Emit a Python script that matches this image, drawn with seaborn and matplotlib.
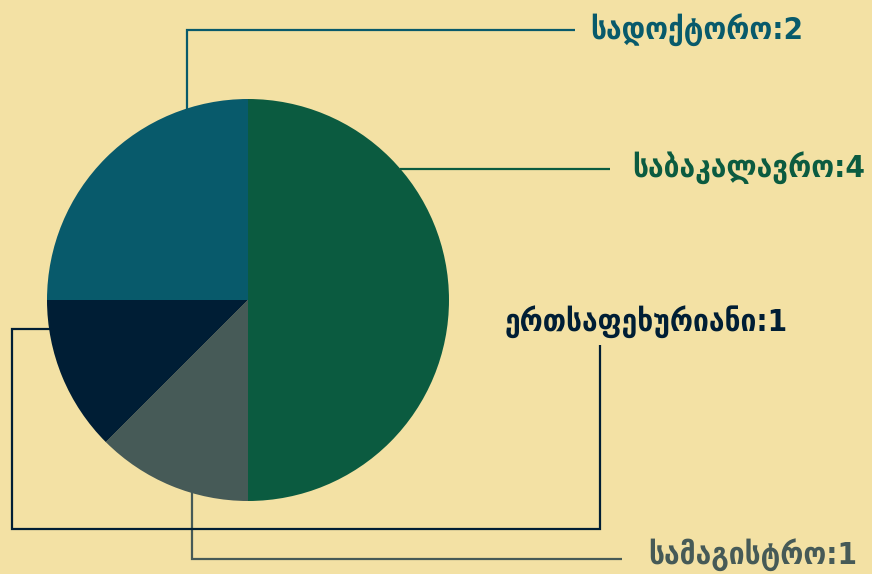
import matplotlib
matplotlib.use("Agg")
import matplotlib.pyplot as plt
import seaborn as sns

# data (clockwise from 12 o'clock)
categories = ["საბაკალავრო", "სამაგისტრო", "ერთსაფეხურიანი", "სადოქტორო"]
values = [4, 1, 1, 2]
colors = ["#0b5b40", "#465a57", "#001e35", "#085a6b"]

BG = "#f3e1a4"
sns.set_theme(style="white")
plt.rcParams["font.family"] = ["DejaVu Sans"]

W, H = 872, 574
fig = plt.figure(figsize=(W / 100, H / 100), dpi=100, facecolor=BG)
ax = fig.add_axes([0, 0, 1, 1])
ax.set_facecolor(BG)

def py(y):
    return H - y

cx, cy, r = 248, 300, 201
wedges, _ = ax.pie(values, colors=sns.color_palette(colors), startangle=90,
                   counterclock=False, center=(cx, py(cy)), radius=r,
                   wedgeprops=dict(linewidth=0, zorder=3), frame=True)
ax.set_xlim(0, W)
ax.set_ylim(0, H)
ax.set_aspect("equal")
ax.axis("off")

lw = 1.6
# leader lines (layout), in pixel coordinates
leaders = {
    "სადოქტორო": ([187, 187, 575], [150, 30, 30]),
    "საბაკალავრო": ([400, 610], [169, 169]),
    "ერთსაფეხურიანი": ([60, 12, 12, 600, 600], [329, 329, 529, 529, 345]),
    "სამაგისტრო": ([192, 192, 622], [470, 559, 559]),
}
label_pos = {
    "სადოქტორო": (590, 30),
    "საბაკალავრო": (632, 168),
    "ერთსაფეხურიანი": (505, 322),
    "სამაგისტრო": (648, 555),
}
for cat, val, col in zip(categories, values, colors):
    xs, ys = leaders[cat]
    ax.plot(xs, [py(v) for v in ys], color=col, lw=lw, zorder=1,
            solid_joinstyle="miter", solid_capstyle="butt")
    lx, ly = label_pos[cat]
    ax.text(lx, py(ly), f"{cat}:{val}", color=col, fontsize=22.5,
            fontweight="bold", fontstretch="condensed", ha="left", va="center",
            family=["DejaVu Sans"])

fig.savefig("out.png", dpi=100, facecolor=BG)
